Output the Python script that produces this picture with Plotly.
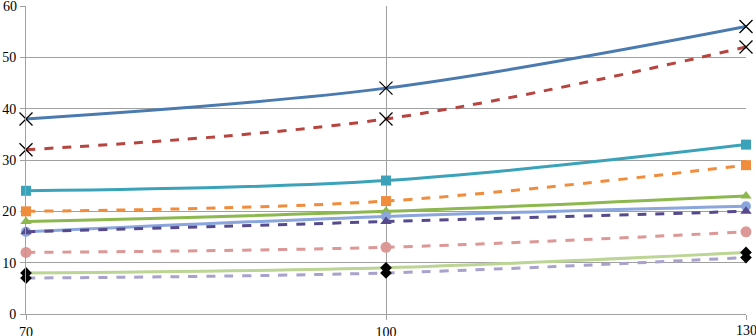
import plotly.graph_objects as go

x_vals = [70, 100, 130]
series_names = ["S1", "S2", "S3", "S4", "S5", "S6", "S7", "S8", "S9", "S10"]
s1 = [38, 44, 56]
s2 = [32, 38, 52]
s3 = [24, 26, 33]
s4 = [20, 22, 29]
s5 = [18, 20, 23]
s6 = [16, 19, 21]
s7 = [16, 18, 20]
s8 = [12, 13, 16]
s9 = [8, 9, 12]
s10 = [7, 8, 11]
y_ticks = [0, 10, 20, 30, 40, 50, 60]

styles = [
    dict(color="#4a7ab0", dash="solid", symbol="x-thin", mcolor="#000000", msize=13),
    dict(color="#b8443f", dash="dash", symbol="x-thin", mcolor="#000000", msize=13),
    dict(color="#3aa3ba", dash="solid", symbol="square", mcolor="#3aa3ba", msize=10),
    dict(color="#f08c3c", dash="dash", symbol="square", mcolor="#f08c3c", msize=10),
    dict(color="#8cb84e", dash="solid", symbol="triangle-up", mcolor="#8cb84e", msize=10),
    dict(color="#8aa6dc", dash="solid", symbol="circle", mcolor="#8aa6dc", msize=10),
    dict(color="#564a8c", dash="dash", symbol="triangle-up", mcolor="#564a8c", msize=10),
    dict(color="#db9896", dash="dash", symbol="circle", mcolor="#db9896", msize=11),
    dict(color="#bcd494", dash="solid", symbol="diamond", mcolor="#000000", msize=9),
    dict(color="#a8a2cc", dash="dash", symbol="diamond", mcolor="#000000", msize=9),
]
data = [s1, s2, s3, s4, s5, s6, s7, s8, s9, s10]

FONT = "Times New Roman, Liberation Serif, serif"

fig = go.Figure()
for name, ys, st in zip(series_names, data, styles):
    marker = dict(symbol=st["symbol"], size=st["msize"], color=st["mcolor"])
    if st["symbol"] == "x-thin":
        marker["line"] = dict(color="#000000", width=1.3)
    fig.add_trace(go.Scatter(
        x=x_vals, y=ys, name=name, mode="lines+markers",
        line=dict(color=st["color"], width=3, dash=st["dash"], shape="spline", smoothing=1),
        marker=marker, cliponaxis=False,
    ))

fig.update_layout(
    width=756, height=336,
    margin=dict(l=26, r=10, t=6, b=22, autoexpand=False),
    paper_bgcolor="white", plot_bgcolor="white",
    showlegend=False,
    font=dict(family=FONT, size=14, color="#000000"),
)
# edge tick labels are drawn as annotations (plotly drops labels at the paper edge)
fig.update_xaxes(
    range=[70, 130], tickvals=x_vals,
    ticktext=[str(v) if v != x_vals[-1] else "" for v in x_vals],
    showgrid=True, gridcolor="#a0a0a0", gridwidth=1,
    showline=True, linecolor="#a0a0a0", linewidth=1,
    ticks="outside", ticklen=5, tickcolor="#a0a0a0",
    zeroline=False, mirror=False, automargin=False,
)
fig.update_yaxes(
    range=[0, 60], tickvals=y_ticks,
    ticktext=[str(v) if v != y_ticks[-1] else "" for v in y_ticks],
    showgrid=True, gridcolor="#a0a0a0", gridwidth=1,
    showline=True, linecolor="#a0a0a0", linewidth=1,
    ticks="outside", ticklen=5, tickcolor="#a0a0a0",
    zeroline=False, automargin=False, ticklabelstandoff=1,
)
fig.add_annotation(
    xref="paper", x=0, yref="y", y=y_ticks[-1], text=str(y_ticks[-1]),
    showarrow=False, xanchor="right", yanchor="middle", xshift=-7, yshift=0,
    font=dict(family=FONT, size=14, color="#000000"),
)
fig.add_annotation(
    xref="x", x=x_vals[-1], yref="paper", y=0, text=str(x_vals[-1]),
    showarrow=False, xanchor="center", yanchor="top", yshift=-7,
    font=dict(family=FONT, size=14, color="#000000"),
)

fig.write_html(
    "out.html",
    config={"displayModeBar": False},
    post_script="document.body.style.margin='0';document.body.style.overflow='hidden';",
)
